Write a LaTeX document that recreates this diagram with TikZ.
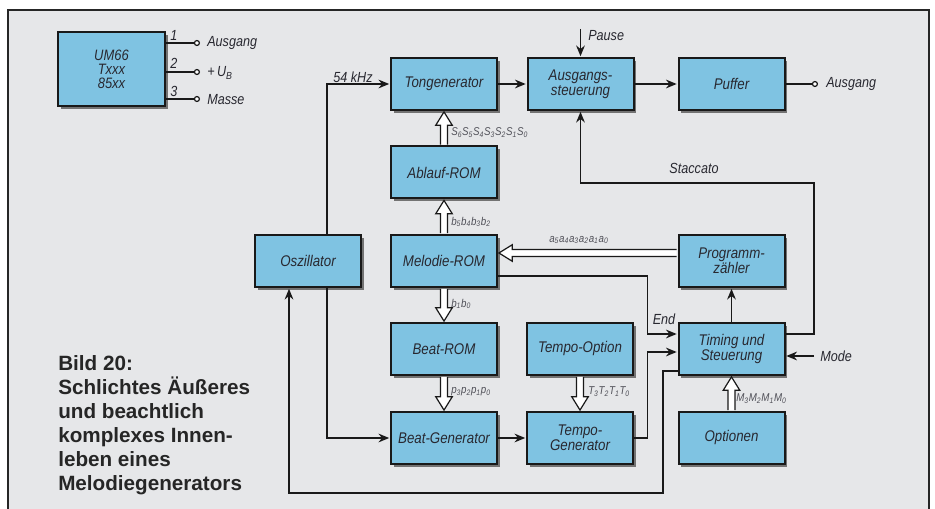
\documentclass[tikz,border=0pt]{standalone}
\usepackage{fontspec}
\setmainfont{Liberation Sans}[FakeStretch=0.86]
\newfontfamily\capfont{Liberation Sans}
\usetikzlibrary{calc,shadows,arrows.meta}
\definecolor{bg}{RGB}{230,231,233}
\definecolor{boxblue}{RGB}{127,195,226}
\definecolor{txt}{RGB}{40,40,48}
\definecolor{lbl}{RGB}{80,80,88}
\newcommand\busarrow[2]{%
  \coordinate (ba0) at (#1); \coordinate (bb0) at (#2);
  \coordinate (ba) at ($(ba0)!0.7pt!(bb0)$);
  \coordinate (bb) at ($(bb0)!0.7pt!(ba0)$);
  \coordinate (bh) at ($(bb)!10pt!(ba)$);
  \filldraw[bus] ($(ba)!2.6pt!90:(bb)$) -- ($(bh)!2.6pt!90:(bb)$) -- ($(bh)!6.2pt!90:(bb)$) -- (bb)
     -- ($(bh)!6.2pt!-90:(bb)$) -- ($(bh)!2.6pt!-90:(bb)$) -- ($(ba)!2.6pt!-90:(bb)$);
}
\begin{document}
\begin{tikzpicture}[x=0.75pt,y=-0.75pt,
  blk/.style={draw=black!90, line width=1.5pt, fill=boxblue, minimum width=79.5pt,
    minimum height=39pt, inner sep=1pt, align=center, text=txt,
    font=\fontsize{11.6}{11.5}\selectfont\itshape,
    drop shadow={shadow xshift=2.2pt, shadow yshift=-2.2pt, fill=black!55, opacity=1}},
  conn/.style={line width=1.3pt, draw=black!90},
  arr/.style={conn, -{Stealth[length=8pt,width=6.5pt]}, shorten >=0.6pt},
  pinarr/.style={conn, line width=1.1pt, -{Circle[open,length=4.6pt,width=4.6pt,line width=0.9pt,fill=white]}},
  bus/.style={draw=black!90, line width=0.9pt, fill=white, line join=miter},
  lab/.style={text=txt, inner sep=0pt, font=\fontsize{11}{12}\selectfont\itshape},
  sub/.style={text=lbl, inner sep=0pt, font=\fontsize{8.5}{9}\selectfont\itshape, anchor=west},
]
\useasboundingbox (0,0) rectangle (935,509);
\clip (0,0) rectangle (935,509);
\fill[white] (0,0) rectangle (935,509);
\filldraw[fill=bg, draw=black!85, line width=0.8pt] (8,10) rectangle (929,530);

% chip
\node[blk, minimum width=80.25pt, minimum height=55.5pt, font=\fontsize{11.3}{10.5}\selectfont\itshape] (um) at (111.5,69) {UM66\\Txxx\\85xx};
\coordinate (p1) at (200,43);
\coordinate (p2) at (200,72);
\coordinate (p3) at (200,99);
\draw[pinarr] ($(um.east)+(0,-26)$) -- (p1);
\draw[pinarr] ($(um.east)+(0,3)$) -- (p2);
\draw[pinarr] ($(um.east)+(0,30)$) -- (p3);
\node[lab] (n1) at (174,35) {1};
\node[lab] (n2) at (174,63) {2};
\node[lab] (n3) at (174,91) {3};
\node[lab, anchor=west] (l1) at (207,43) {Ausgang};
\node[lab, anchor=west] (l2) at (207,73) {+\,U\textsubscript{B}};
\node[lab, anchor=west] (l3) at (207,100) {Masse};

% blocks
\node[blk] (ton) at (444,84) {Tongenerator};
\node[blk] (aus) at (580.5,84) {Ausgangs-\\steuerung};
\node[blk] (puf) at (731.5,84) {Puffer};
\node[blk] (abl) at (444,172.5) {Ablauf-ROM};
\node[blk] (osc) at (308,261) {Oszillator};
\node[blk] (mel) at (444,261) {Melodie-ROM};
\node[blk] (prg) at (731.5,261) {Programm-\\zähler};
\node[blk] (brom) at (444,349) {Beat-ROM};
\node[blk] (topt) at (580,349) {Tempo-Option};
\node[blk] (tim) at (731.5,349) {Timing und\\Steuerung};
\node[blk] (bgen) at (444,438) {Beat-Generator};
\node[blk] (tgen) at (580,438) {Tempo-\\Generator};
\node[blk] (opt) at (731.5,438) {Optionen};

% plain connectors
\draw[arr] ($(osc.north)+(19,0)$) |- (ton.west);
\node[lab] (khz) at (353,77) {54 kHz};
\draw[arr] ($(osc.south)+(19,0)$) |- (bgen.west);
\draw[arr] (ton.east) -- (aus.west);
\draw[arr] (aus.east) -- (puf.west);
\coordinate (pout) at (818,84);
\draw[pinarr] (puf.east) -- (pout);
\node[lab, anchor=west] (lout) at (826,84) {Ausgang};
\coordinate (pz) at (580.5,29);
\draw[arr] (pz) -- (aus.north);
\node[lab, anchor=west] (lpz) at (588,36) {Pause};
\coordinate (stc) at (814,183);
\draw[arr] ($(tim.east)+(0,-15)$) -| (stc) -| (aus.south);
\node[lab] (lstc) at (694,168) {Staccato};
\draw[arr] ($(mel.east)+(0,15)$) -| ($(tim.west)+(-30,-15)$) -- ($(tim.west)+(0,-15)$);
\node[lab] (lend) at (664,319) {End};
\draw[arr] (tgen.east) -| ($(tim.west)+(-30,3)$) -- ($(tim.west)+(0,3)$);
\draw[arr] (tim.north) -- (prg.south);
\coordinate (md) at (814,356);
\draw[arr] (md) -- ($(tim.east)+(0,7)$);
\node[lab, anchor=west] (lmd) at (820,356) {Mode};
\coordinate (lp) at (663,493);
\draw[arr] ($(tim.west)+(0,22)$) -| (lp) -| ($(osc.south)+(-19,0)$);
\draw[arr] (bgen.east) -- (tgen.west);

% bus arrows
\busarrow{abl.north}{ton.south}
\node[sub] (ls) at (451,133) {S\textsubscript{6}S\textsubscript{5}S\textsubscript{4}S\textsubscript{3}S\textsubscript{2}S\textsubscript{1}S\textsubscript{0}};
\busarrow{mel.north}{abl.south}
\node[sub] (lb1) at (451,222) {b\textsubscript{5}b\textsubscript{4}b\textsubscript{3}b\textsubscript{2}};
\busarrow{mel.south}{brom.north}
\node[sub] (lb2) at (451,304) {b\textsubscript{1}b\textsubscript{0}};
\busarrow{$(prg.west)+(0,-8)$}{$(mel.east)+(0,-8)$}
\node[sub] (la) at (549,240) {a\textsubscript{5}a\textsubscript{4}a\textsubscript{3}a\textsubscript{2}a\textsubscript{1}a\textsubscript{0}};
\busarrow{brom.south}{bgen.north}
\node[sub] (lp4) at (451,392) {p\textsubscript{3}p\textsubscript{2}p\textsubscript{1}p\textsubscript{0}};
\busarrow{topt.south}{tgen.north}
\node[sub] (lt) at (588,392) {T\textsubscript{3}T\textsubscript{2}T\textsubscript{1}T\textsubscript{0}};
\busarrow{opt.north}{tim.south}
\node[sub] (lm) at (736,399) {M\textsubscript{3}M\textsubscript{2}M\textsubscript{1}M\textsubscript{0}};

% caption
\node[anchor=north west, align=left, inner sep=0pt, text=black!85,
  font=\capfont\bfseries\fontsize{15.5}{18}\selectfont] (cap) at (58,355)
  {Bild 20:\\Schlichtes Äußeres\\und beachtlich\\komplexes Innen-\\leben eines\\Melodiegenerators};
\end{tikzpicture}
\end{document}
